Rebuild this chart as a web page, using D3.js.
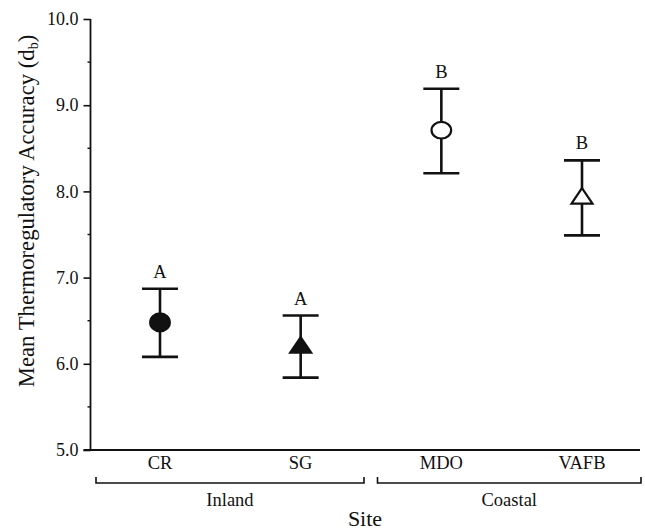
<!DOCTYPE html>
<html>
<head>
<meta charset="utf-8">
<script src="https://cdn.jsdelivr.net/npm/d3@7"></script>
<style>
  html, body { margin: 0; padding: 0; background: #fff; }
  svg { display: block; }
  text { font-family: "Liberation Serif", "Times New Roman", "DejaVu Serif", serif; fill: #111; }
</style>
</head>
<body>
<svg id="chart" width="645" height="530"></svg>
<script>
// ---- data ----
const sites   = ["CR", "SG", "MDO", "VAFB"];
const means   = [6.48, 6.21, 8.71, 7.94];
const upper   = [6.87, 6.56, 9.19, 8.36];
const lower   = [6.08, 5.84, 8.21, 7.49];
const letters = ["A", "A", "B", "B"];
const shapes  = ["circle", "triangle", "circle", "triangle"];
const filled  = [true, true, false, false];
const yTicks  = [5, 6, 7, 8, 9, 10];
const yMinor  = [5.5, 6.5, 7.5, 8.5, 9.5];
const groups  = ["Inland", "Coastal"];
const groupMembers = [["CR", "SG"], ["MDO", "VAFB"]];

const FONT = "'Liberation Serif', 'Times New Roman', 'DejaVu Serif', serif";

// ---- layout ----
const svg = d3.select("#chart");
const axisX = 90.5, axisY = 450;
const x = d3.scalePoint().domain(sites).range([160, 582]);
const y = d3.scaleLinear().domain([5, 10]).range([axisY, 19]);

// y axis
const yAxis = d3.axisLeft(y).tickValues(yTicks).tickFormat(d3.format(".1f"))
  .tickSize(7).tickPadding(5).tickSizeOuter(0);
const gy = svg.append("g").attr("transform", `translate(${axisX},0)`).call(yAxis)
  .attr("font-family", FONT);
gy.select(".domain").remove();
gy.selectAll(".tick line").attr("stroke", "#111").attr("stroke-width", 1.6);
gy.selectAll(".tick text").style("font-size", "18px").style("font-family", FONT).attr("fill", "#111");
svg.append("line").attr("x1", axisX).attr("x2", axisX).attr("y1", y(10)).attr("y2", axisY)
  .attr("stroke", "#111").attr("stroke-width", 1.8);
// minor ticks
svg.selectAll(".minor").data(yMinor).join("line")
  .attr("x1", axisX - 3).attr("x2", axisX).attr("y1", d => y(d)).attr("y2", d => y(d))
  .attr("stroke", "#111").attr("stroke-width", 1.4);

// x axis line
svg.append("line").attr("x1", axisX - 7).attr("x2", 640).attr("y1", axisY).attr("y2", axisY)
  .attr("stroke", "#111").attr("stroke-width", 1.8);

// x category labels
svg.selectAll(".xlab").data(sites).join("text")
  .attr("x", d => x(d)).attr("y", 469).attr("text-anchor", "middle")
  .style("font-family", FONT).style("font-size", "18.5px").text(d => d);

// group brackets
const step = x.step();
const bracketY = 483;
const gb = svg.append("g");
groupMembers.forEach((m, i) => {
  const x0 = x(m[0]) - step / 2 + 6.5;
  const x1 = Math.min(x(m[m.length - 1]) + step / 2 - 7, 641);
  const px0 = i === 0 ? 96 : x0;
  const pathStr = `M${px0},${bracketY - 6}V${bracketY}H${x1}V${bracketY - 6}`;
  gb.append("path").attr("d", pathStr).attr("fill", "none").attr("stroke", "#111").attr("stroke-width", 1.6);
  gb.append("text").attr("x", (px0 + x1) / 2).attr("y", 506).attr("text-anchor", "middle")
    .style("font-family", FONT).style("font-size", "18.5px").text(groups[i]);
});

// axis titles
svg.append("text").attr("x", 365).attr("y", 526).attr("text-anchor", "middle")
  .style("font-family", FONT).style("font-size", "22px").text("Site");
const yt = svg.append("text").attr("transform", "translate(34,211) rotate(-90)")
  .attr("text-anchor", "middle").style("font-family", FONT).style("font-size", "22.7px");
yt.append("tspan").text("Mean Thermoregulatory Accuracy (d");
yt.append("tspan").attr("dy", 4).style("font-size", "14px").text("b");
yt.append("tspan").attr("dy", -4).text(")");

// error bars
const capHalf = 18;
const eb = svg.append("g").attr("stroke", "#111").attr("stroke-width", 2.6).attr("fill", "none");
sites.forEach((s, i) => {
  const cx = x(s);
  eb.append("line").attr("x1", cx).attr("x2", cx).attr("y1", y(upper[i])).attr("y2", y(lower[i]));
  eb.append("line").attr("x1", cx - capHalf).attr("x2", cx + capHalf).attr("y1", y(upper[i])).attr("y2", y(upper[i]));
  eb.append("line").attr("x1", cx - capHalf).attr("x2", cx + capHalf).attr("y1", y(lower[i])).attr("y2", y(lower[i]));
});

// markers
const mk = svg.append("g");
sites.forEach((s, i) => {
  const cx = x(s), cy = y(means[i]);
  const fill = filled[i] ? "#111" : "#fff";
  if (shapes[i] === "circle") {
    mk.append("ellipse").attr("cx", cx).attr("cy", cy).attr("rx", 9.8).attr("ry", filled[i] ? 9 : 8.3)
      .attr("fill", fill).attr("stroke", "#111").attr("stroke-width", 2.2);
  } else {
    const hw = 10.5, h = 15.5;
    const p = `M${cx},${cy - h * 0.55}L${cx + hw},${cy + h * 0.45}L${cx - hw},${cy + h * 0.45}Z`;
    mk.append("path").attr("d", p).attr("fill", fill).attr("stroke", "#111").attr("stroke-width", 2.2)
      .attr("stroke-linejoin", "miter");
  }
});

// significance letters
svg.selectAll(".sig").data(sites).join("text")
  .attr("x", d => x(d)).attr("y", (d, i) => y(upper[i]) - 11).attr("text-anchor", "middle")
  .style("font-family", FONT).style("font-size", "18.5px").text((d, i) => letters[i]);
</script>
</body>
</html>
